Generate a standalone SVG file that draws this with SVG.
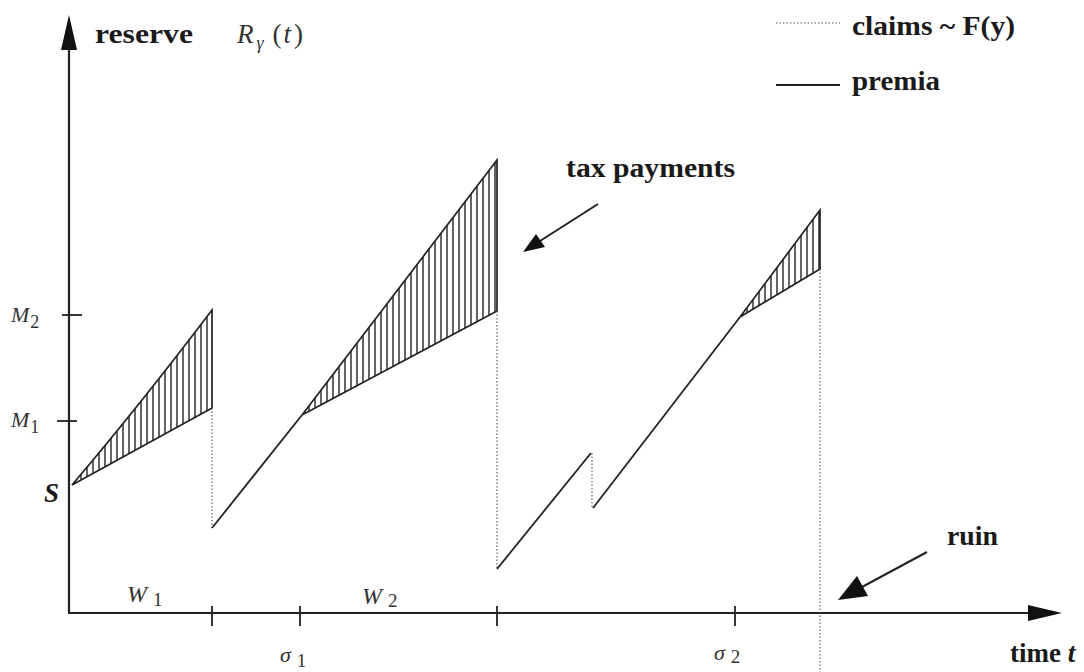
<svg xmlns="http://www.w3.org/2000/svg" width="1084" height="672" viewBox="0 0 1084 672">
  <style>
    .axis { stroke:#222; stroke-width:2.2; fill:none; }
    .curve { stroke:#222; stroke-width:1.8; fill:none; }
    .hatched { stroke:#222; stroke-width:1.7; fill:url(#hatch); stroke-linejoin:miter; }
    .dot { stroke:#555; stroke-width:1.1; stroke-dasharray:1.5 2; fill:none; }
    .tick { stroke:#222; stroke-width:1.8; }
    .lbl { font-family:"Liberation Serif", "Times New Roman", serif; font-weight:bold; font-size:27px; fill:#1a1a1a; }
    .math { font-family:"Liberation Serif", "Times New Roman", serif; font-style:italic; fill:#333; }
    .up { font-style:normal; }
    .arr { stroke:#222; stroke-width:2; fill:none; }
  </style>
  <defs>
    <pattern id="hatch" width="6" height="10" patternUnits="userSpaceOnUse">
      <line x1="3" y1="0" x2="3" y2="10" stroke="#222" stroke-width="1.4"/>
    </pattern>
  </defs>
  <rect width="1084" height="672" fill="#fff"/>

  <g id="axes">
    <line class="axis" x1="69" y1="613" x2="69" y2="45"/>
    <polygon points="69,15 61,50 77,50" fill="#111"/>
    <line class="axis" x1="68" y1="613" x2="1035" y2="613"/>
    <polygon points="1062,613 1028,605 1028,621" fill="#111"/>
    <line class="tick" x1="62" y1="315" x2="82" y2="315"/>
    <line class="tick" x1="57" y1="421" x2="77" y2="421"/>
    <line class="tick" x1="212" y1="606" x2="212" y2="626"/>
    <line class="tick" x1="300" y1="606" x2="300" y2="626"/>
    <line class="tick" x1="497" y1="606" x2="497" y2="626"/>
    <line class="tick" x1="735" y1="606" x2="735" y2="626"/>
  </g>

  <g id="connectors">
    <!-- period 1 -->
    <path class="hatched" d="M72,485 Q140,405 212,310 L212,408 Z"/>
    <line class="dot" x1="212" y1="408" x2="212" y2="528"/>
    <!-- period 2 -->
    <line class="curve" x1="212" y1="528" x2="302" y2="415"/>
    <path class="hatched" d="M302,415 L497,160 L497,311 Z"/>
    <line class="dot" x1="497" y1="311" x2="497" y2="569"/>
    <!-- period 3 -->
    <line class="curve" x1="497" y1="569" x2="591" y2="453"/>
    <line class="dot" x1="592" y1="453" x2="592" y2="508"/>
    <line class="curve" x1="593" y1="508" x2="740" y2="317"/>
    <path class="hatched" d="M740,317 L820,210 L820,269 Z"/>
    <line class="dot" x1="820" y1="269" x2="820" y2="672"/>
    <!-- legend -->
    <line class="dot" x1="776" y1="23" x2="840" y2="23"/>
    <line class="curve" x1="776" y1="85" x2="840" y2="85" stroke-width="2.2"/>
    <!-- pointers -->
    <line class="arr" x1="598" y1="204" x2="540" y2="241"/>
    <polygon points="523,252 536,234 545,247" fill="#111"/>
    <line class="arr" x1="927" y1="552" x2="862" y2="587"/>
    <polygon points="838,600 857,576 868,596" fill="#111"/>
  </g>

  <g id="labels">
    <text class="lbl" x="95" y="43" font-size="28" textLength="98" lengthAdjust="spacingAndGlyphs">reserve</text>
    <text class="math" x="237" y="43" font-size="27">R<tspan font-size="18" dx="3" dy="6">γ</tspan><tspan class="up" dx="9" dy="-6">(</tspan><tspan dx="2">t</tspan><tspan class="up" dx="3">)</tspan></text>
    <text class="lbl" x="852" y="35" textLength="163" lengthAdjust="spacingAndGlyphs">claims ~ F(y)</text>
    <text class="lbl" x="852" y="90" textLength="88" lengthAdjust="spacingAndGlyphs">premia</text>
    <text class="lbl" x="566" y="177" textLength="169" lengthAdjust="spacingAndGlyphs">tax payments</text>
    <text class="lbl" x="947" y="545" textLength="51" lengthAdjust="spacingAndGlyphs">ruin</text>
    <text class="lbl" x="1010" y="662">time <tspan font-style="italic">t</tspan></text>
    <text class="lbl" x="44" y="502" font-size="25" font-style="italic">S</text>
    <text class="math" x="11" y="322" font-size="22">M<tspan class="up" font-size="18" dx="1" dy="6">2</tspan></text>
    <text class="math" x="11" y="427" font-size="22">M<tspan class="up" font-size="18" dx="1" dy="6">1</tspan></text>
    <text class="math" x="127" y="602" font-size="24">W<tspan class="up" font-size="19" dx="6" dy="4">1</tspan></text>
    <text class="math" x="362" y="604" font-size="24">W<tspan class="up" font-size="19" dx="6" dy="3">2</tspan></text>
    <text class="math" x="280" y="662" font-size="22">σ<tspan class="up" font-size="19" dx="6" dy="5">1</tspan></text>
    <text class="math" x="714" y="660" font-size="22">σ<tspan class="up" font-size="19" dx="6" dy="3">2</tspan></text>
  </g>
</svg>
